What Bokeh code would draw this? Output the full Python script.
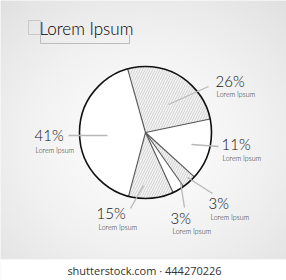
import numpy as np
from bokeh.plotting import figure
from bokeh.models import Range1d
from bokeh.embed import file_html
from bokeh.resources import INLINE
from bokeh.core.properties import value

# ---- data ----
title = "Lorem Ipsum"
labels = ["26%", "11%", "3%", "3%", "15%", "41%"]
captions = ["Lorem Ipsum"] * 6
# slice shares as drawn in the picture (per cent of the circle)
shares = [26.1, 15.0, 3.5, 2.9, 11.0, 41.5]
hatched = [True, False, True, False, True, False]

W, H = 286, 280
def Y(y):  # image row -> data y
    return H - y

LIGHT = value("'Lato Light', 'Lato', sans-serif")

p = figure(width=W, height=H, output_backend="svg", toolbar_location=None,
           x_range=Range1d(0, W), y_range=Range1d(0, H), min_border=0)
p.axis.visible = False
p.grid.visible = False
p.outline_line_color = None
p.background_fill_color = "#f3f3f3"
p.border_fill_color = "#ffffff"

# background radial gradient (style)
gx, gy = np.meshgrid(np.linspace(0, 1, 143), np.linspace(0, 1, 140))
d = np.sqrt(((gx - 0.5) / 0.75) ** 2 + ((gy - 0.45) / 0.75) ** 2)
g = np.clip(252 - 28 * d ** 1.6, 0, 255).astype(np.uint32)
img = (255 << 24) | (g << 16) | (g << 8) | g
p.image_rgba(image=[img.astype(np.uint32)], x=0, y=Y(259), dw=W, dh=259)
# white strip at bottom
p.quad(left=0, right=W, bottom=0, top=Y(259), fill_color="white", line_color=None)

# ---- pie ----
cx, cy, r = 145, Y(132), 66
start = 344.3  # degrees clockwise from 12 o'clock
tot = sum(shares)
angs = [start]
for s in shares:
    angs.append(angs[-1] + s / tot * 360)
sa = [np.radians(90 - a) for a in angs[:-1]]
ea = [np.radians(90 - a) for a in angs[1:]]
for i in range(len(shares)):
    if hatched[i]:
        p.wedge(x=cx, y=cy, radius=r, start_angle=sa[i], end_angle=ea[i], direction="clock",
                fill_color="#f6f6f6", hatch_pattern="/", hatch_color="#b4b4b4",
                hatch_scale=5, hatch_weight=0.6, line_color=None)
    else:
        p.wedge(x=cx, y=cy, radius=r, start_angle=sa[i], end_angle=ea[i], direction="clock",
                fill_color="#ffffff", line_color=None)
# radial separators
for a in angs[:-1]:
    t = np.radians(a)
    p.line([cx, cx + r * np.sin(t)], [cy, cy + r * np.cos(t)], line_color="#555555", line_width=1.1)
p.circle(x=cx, y=cy, radius=r, fill_color=None, line_color="#111111", line_width=1.6)

# ---- leader lines ----
leaders = [((168, 104), (208, 86)), ((191, 144), (218, 146)), ((187, 177), (212, 193)),
           ((180, 182), (184, 207)), ((143, 185), (130, 208)), ((68, 135), (107, 135))]
for (a, b) in leaders:
    p.line([a[0], b[0]], [Y(a[1]), Y(b[1])], line_color="#b8b8b8", line_width=1.3)

# ---- labels (positions = vertical centres of glyphs) ----
lab_pos = [(215, 80.5), (221, 143.5), (208, 202.5), (170, 217), (96, 212), (34, 134.5)]
cap_pos = [(216, 93.5), (222, 157), (210, 216.5), (172, 230), (98, 226), (35, 149)]
for (lx, ly), t in zip(lab_pos, labels):
    p.text(x=[lx], y=[Y(ly)], text=[t], text_font=LIGHT, text_font_size="15px",
           text_color="#111111", text_baseline="middle", text_align="left")
for (lx, ly), t in zip(cap_pos, captions):
    p.text(x=[lx], y=[Y(ly)], text=[t], text_font=LIGHT, text_font_size="7px",
           text_color="#222222", text_baseline="middle", text_align="left")

# ---- title with decorative frame ----
p.quad(left=28, right=40, bottom=Y(34), top=Y(20), fill_color=None, line_color="#c8c8c8", line_width=1)
p.line([40, 40, 129, 129], [Y(34), Y(43), Y(43), Y(34)], line_color="#bdbdbd", line_width=1)
p.text(x=[39], y=[Y(28)], text=[title], text_font=LIGHT, text_font_size="17px",
       text_color="#000000", text_baseline="middle", text_align="left")

# watermark strip text
p.text(x=[144], y=[Y(270)], text=["shutterstock.com · 444270226"], text_font=value("Open Sans"),
       text_font_size="11px", text_color="#333333", text_baseline="middle", text_align="center")

open("out.html", "w").write(file_html(p, INLINE))
